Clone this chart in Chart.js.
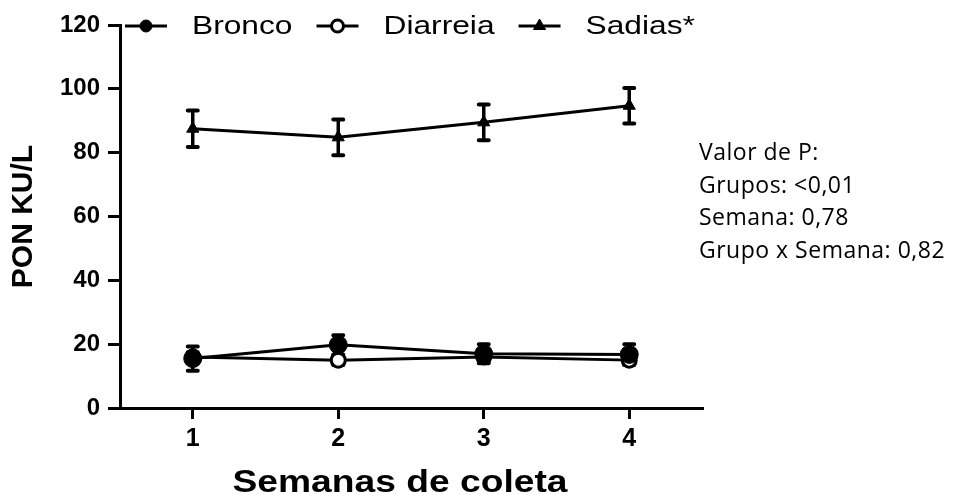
<!DOCTYPE html>
<html>
<head>
<meta charset="utf-8">
<script src="https://cdn.jsdelivr.net/npm/chart.js@4.4.1/dist/chart.umd.min.js"></script>
<style>
  html, body { margin: 0; padding: 0; background: #fff; }
  #wrap { position: relative; width: 954px; height: 495px; }
  #pvalues {
    position: absolute; left: 699px; top: 135px;
    font-family: 'Open Sans', sans-serif; font-size: 23px; line-height: 32.7px;
    letter-spacing: 0.5px; color: #000; white-space: nowrap;
  }
</style>
</head>
<body>
<div id="wrap">
  <canvas id="ponChart" width="954" height="495"></canvas>
  <div id="pvalues">Valor de P:<br>Grupos: &lt;0,01<br>Semana: 0,78<br>Grupo x Semana: 0,82</div>
</div>
<script>
// data (mean and error per week)
const weeks = [1, 2, 3, 4];
const bronco = [15.5, 19.8, 17.0, 16.8];
const broncoErr = [3.8, 3.0, 3.0, 3.2];
const diarreia = [16.0, 15.0, 16.0, 15.0];
const diarreiaErr = [1.5, 1.5, 1.5, 1.5];
const sadias = [87.5, 84.8, 89.5, 94.7];
const sadiasErr = [5.7, 5.6, 5.6, 5.6];
const seriesLabels = ['Bronco', 'Diarreia', 'Sadias*'];
const yTicks = [0, 20, 40, 60, 80, 100, 120];
const xTitle = 'Semanas de coleta';

const arial = '"Liberation Sans", Arial, sans-serif';

function toPoints(vals) {
  return weeks.map((w, i) => ({ x: w, y: vals[i] }));
}

// Error bars with caps, drawn under the markers
const errorBars = {
  id: 'errorBars',
  beforeDatasetsDraw(chart) {
    const { ctx, scales: { x, y } } = chart;
    ctx.save();
    ctx.strokeStyle = '#000';
    chart.data.datasets.forEach(ds => {
      ds.errors.forEach((e, i) => {
        const px = x.getPixelForValue(ds.data[i].x);
        const top = y.getPixelForValue(ds.data[i].y + e);
        const bot = y.getPixelForValue(ds.data[i].y - e);
        ctx.lineWidth = 3.5;
        ctx.lineCap = 'butt';
        ctx.beginPath();
        ctx.moveTo(px, top);
        ctx.lineTo(px, bot);
        ctx.stroke();
        ctx.lineWidth = 4;
        ctx.lineCap = 'round';
        ctx.beginPath();
        ctx.moveTo(px - 5, top); ctx.lineTo(px + 5, top);
        ctx.moveTo(px - 5, bot); ctx.lineTo(px + 5, bot);
        ctx.stroke();
      });
    });
    ctx.restore();
  }
};

// Legend with a line through each marker, plus the stretched x title
const lineLegend = {
  id: 'lineLegend',
  afterDraw(chart) {
    const ctx = chart.ctx;
    const y0 = 26;
    let x0 = chart.chartArea.left + 5;
    ctx.save();
    ctx.font = '26px ' + arial;
    ctx.textBaseline = 'middle';
    chart.data.datasets.forEach(ds => {
      ctx.strokeStyle = '#000';
      ctx.lineWidth = 3;
      ctx.beginPath();
      ctx.moveTo(x0, y0);
      ctx.lineTo(x0 + 42, y0);
      ctx.stroke();
      ctx.fillStyle = ds.pointBackgroundColor;
      ctx.strokeStyle = ds.pointBorderColor;
      ctx.lineWidth = ds.pointBorderWidth;
      Chart.helpers.drawPoint(ctx, {
        pointStyle: ds.pointStyle,
        rotation: 0,
        radius: ds.pointStyle === 'triangle' ? 7 : 6,
        borderWidth: ds.pointBorderWidth
      }, x0 + 21, y0);
      ctx.fillStyle = '#000';
      ctx.save();
      ctx.translate(x0 + 67, y0 + 1);
      ctx.scale(1.22, 1);
      ctx.fillText(ds.label, 0, 0);
      ctx.restore();
      x0 += 67 + ctx.measureText(ds.label).width * 1.22 + 24;
    });

    // x axis title
    ctx.font = 'bold 31px ' + arial;
    ctx.textAlign = 'center';
    ctx.textBaseline = 'alphabetic';
    ctx.translate(400, 492);
    ctx.scale(1.2, 1);
    ctx.fillText(xTitle, 0, 0);
    ctx.restore();
  }
};

const ctx = document.getElementById('ponChart').getContext('2d');
const ponChart = new Chart(ctx, {
  type: 'line',
  data: {
    datasets: [
      {
        label: seriesLabels[0],
        data: toPoints(bronco),
        errors: broncoErr,
        borderColor: '#000',
        borderWidth: 3,
        pointStyle: 'circle',
        pointRadius: 9,
        pointBackgroundColor: '#000',
        pointBorderColor: '#000',
        pointBorderWidth: 1
      },
      {
        label: seriesLabels[1],
        data: toPoints(diarreia),
        errors: diarreiaErr,
        borderColor: '#000',
        borderWidth: 3,
        pointStyle: 'circle',
        pointRadius: 7,
        pointBackgroundColor: '#fff',
        pointBorderColor: '#000',
        pointBorderWidth: 3
      },
      {
        label: seriesLabels[2],
        data: toPoints(sadias),
        errors: sadiasErr,
        borderColor: '#000',
        borderWidth: 3,
        pointStyle: 'triangle',
        pointRadius: 7,
        pointBackgroundColor: '#000',
        pointBorderColor: '#000',
        pointBorderWidth: 1
      }
    ]
  },
  options: {
    responsive: false,
    animation: false,
    clip: false,
    layout: { padding: { top: 25, right: 252, left: 0, bottom: 0 } },
    plugins: {
      legend: { display: false },
      tooltip: { enabled: false }
    },
    scales: {
      x: {
        type: 'linear',
        min: 0.5,
        max: 4.5,
        afterBuildTicks: s => { s.ticks = weeks.map(v => ({ value: v })); },
        afterFit: s => { s.height = 87; },
        grid: { drawOnChartArea: false, color: '#000', lineWidth: 3, tickLength: 11 },
        border: { color: '#000', width: 3 },
        ticks: {
          color: '#000',
          padding: 5,
          maxRotation: 0,
          font: { family: arial, size: 25, weight: 'bold' }
        }
      },
      y: {
        min: 0,
        max: 120,
        afterBuildTicks: s => { s.ticks = yTicks.map(v => ({ value: v })); },
        afterFit: s => { s.width = 120; },
        grid: { drawOnChartArea: false, color: '#000', lineWidth: 3, tickLength: 12 },
        border: { color: '#000', width: 3 },
        ticks: {
          color: '#000',
          padding: 8,
          font: { family: arial, size: 24, weight: 'bold' }
        },
        title: {
          display: true,
          text: 'PON KU/L',
          color: '#000',
          padding: { top: 9, bottom: 0 },
          font: { family: arial, size: 30, weight: 'bold', lineHeight: 1 }
        }
      }
    }
  },
  plugins: [errorBars, lineLegend]
});
</script>
</body>
</html>
